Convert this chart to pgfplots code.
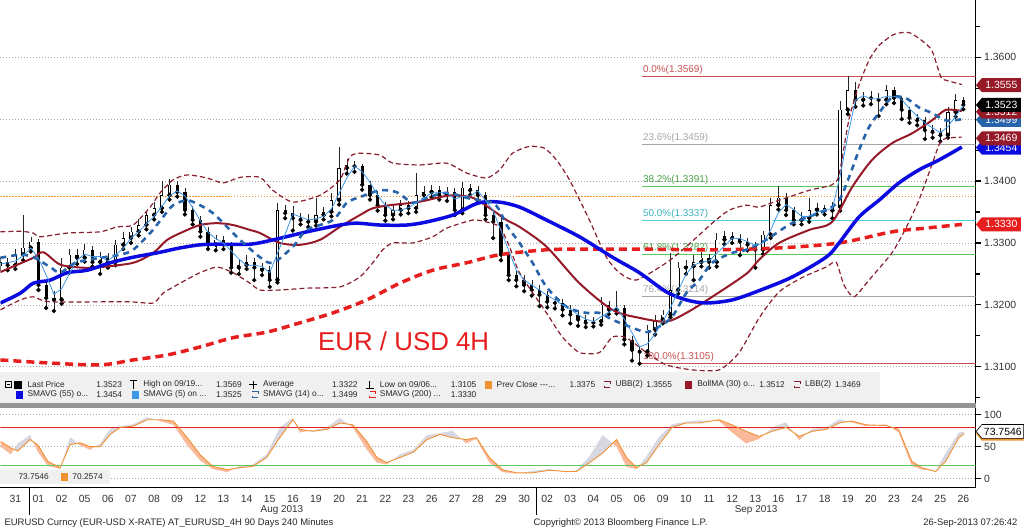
\documentclass[border=0pt]{standalone}
\usepackage{fontspec}
\setmainfont{Liberation Sans}
\usepackage{pgfplots}
\pgfplotsset{compat=1.18}
\usepackage{pgfplotstable}
\usepgfplotslibrary{fillbetween}
\usetikzlibrary{shapes.symbols}

\definecolor{bbblue}{RGB}{10,10,225}
\definecolor{bbsteel}{RGB}{40,100,170}
\definecolor{bblight}{RGB}{60,150,230}
\definecolor{bbred}{RGB}{230,30,30}
\definecolor{bbdark}{RGB}{150,25,40}
\definecolor{bbband}{RGB}{135,30,45}
\definecolor{bborange}{RGB}{240,145,50}
\definecolor{fibred}{RGB}{200,80,80}
\definecolor{fibgreen}{RGB}{90,200,90}
\definecolor{fibcyan}{RGB}{70,210,225}
\definecolor{fibgray}{RGB}{165,165,165}
\definecolor{legbg}{RGB}{240,240,240}
\definecolor{oscfillor}{RGB}{250,185,155}
\definecolor{oscfillgr}{RGB}{215,215,225}

\newcommand\fs[1]{\fontsize{#1}{#1}\selectfont}

% 4H candles, 3 per trading day; k = bar index (3 per day), s = SMAVG(5)
\pgfplotstableread{
k o h l c s
-2 1.3262 1.3277 1.3255 1.3269 1.3266
-1 1.3269 1.3276 1.3256 1.3264 1.3268
0 1.3264 1.3290 1.3258 1.3281 1.3271
1 1.3281 1.3345 1.3272 1.3292 1.3279
2 1.3292 1.3310 1.3286 1.3302 1.3292
3 1.3302 1.3306 1.3224 1.3232 1.3275
4 1.3232 1.3240 1.3195 1.3211 1.3248
5 1.3211 1.3222 1.3190 1.3208 1.3217
6 1.3208 1.3275 1.3202 1.3260 1.3226
7 1.3260 1.3290 1.3252 1.3281 1.3250
8 1.3281 1.3291 1.3266 1.3276 1.3272
9 1.3276 1.3298 1.3270 1.3289 1.3282
10 1.3289 1.3295 1.3262 1.3269 1.3278
11 1.3269 1.3285 1.3250 1.3276 1.3278
12 1.3276 1.3283 1.3260 1.3269 1.3271
13 1.3269 1.3305 1.3264 1.3297 1.3281
14 1.3297 1.3318 1.3290 1.3308 1.3291
15 1.3308 1.3326 1.3300 1.3318 1.3308
16 1.3318 1.3338 1.3312 1.3329 1.3318
17 1.3329 1.3352 1.3322 1.3345 1.3331
18 1.3345 1.3366 1.3338 1.3356 1.3343
19 1.3356 1.3400 1.3350 1.3377 1.3359
20 1.3377 1.3403 1.3370 1.3394 1.3376
21 1.3394 1.3400 1.3375 1.3382 1.3384
22 1.3382 1.3388 1.3346 1.3353 1.3376
23 1.3353 1.3360 1.3330 1.3337 1.3357
24 1.3337 1.3343 1.3310 1.3318 1.3336
25 1.3318 1.3325 1.3290 1.3297 1.3317
26 1.3297 1.3313 1.3288 1.3305 1.3307
27 1.3305 1.3312 1.3290 1.3297 1.3300
28 1.3297 1.3302 1.3252 1.3260 1.3287
29 1.3260 1.3272 1.3250 1.3264 1.3274
30 1.3264 1.3280 1.3258 1.3269 1.3264
31 1.3269 1.3276 1.3240 1.3260 1.3264
32 1.3260 1.3268 1.3248 1.3256 1.3262
33 1.3256 1.3262 1.3229 1.3240 1.3252
34 1.3240 1.3365 1.3236 1.3353 1.3283
35 1.3353 1.3362 1.3340 1.3348 1.3314
36 1.3348 1.3360 1.3320 1.3340 1.3347
37 1.3340 1.3348 1.3330 1.3337 1.3342
38 1.3337 1.3346 1.3326 1.3334 1.3337
39 1.3334 1.3372 1.3328 1.3345 1.3339
40 1.3345 1.3358 1.3338 1.3350 1.3343
41 1.3350 1.3380 1.3343 1.3369 1.3355
42 1.3369 1.3455 1.3362 1.3421 1.3380
43 1.3421 1.3435 1.3412 1.3426 1.3405
44 1.3426 1.3433 1.3415 1.3424 1.3424
45 1.3424 1.3428 1.3386 1.3394 1.3415
46 1.3394 1.3400 1.3370 1.3377 1.3398
47 1.3377 1.3384 1.3352 1.3361 1.3377
48 1.3361 1.3366 1.3336 1.3345 1.3361
49 1.3345 1.3362 1.3338 1.3353 1.3353
50 1.3353 1.3370 1.3346 1.3361 1.3353
51 1.3361 1.3368 1.3348 1.3356 1.3357
52 1.3356 1.3413 1.3350 1.3377 1.3365
53 1.3377 1.3392 1.3370 1.3382 1.3372
54 1.3382 1.3394 1.3374 1.3385 1.3381
55 1.3385 1.3392 1.3370 1.3377 1.3381
56 1.3377 1.3390 1.3368 1.3382 1.3381
57 1.3382 1.3388 1.3345 1.3353 1.3371
58 1.3353 1.3398 1.3348 1.3389 1.3375
59 1.3389 1.3396 1.3378 1.3385 1.3376
60 1.3385 1.3392 1.3368 1.3377 1.3384
61 1.3377 1.3382 1.3338 1.3345 1.3369
62 1.3345 1.3352 1.3308 1.3334 1.3352
63 1.3334 1.3340 1.3272 1.3281 1.3320
64 1.3281 1.3286 1.3240 1.3248 1.3288
65 1.3248 1.3256 1.3230 1.3240 1.3256
66 1.3240 1.3248 1.3222 1.3232 1.3240
67 1.3232 1.3240 1.3215 1.3224 1.3232
68 1.3224 1.3232 1.3198 1.3216 1.3224
69 1.3216 1.3222 1.3196 1.3205 1.3215
70 1.3205 1.3213 1.3194 1.3203 1.3208
71 1.3203 1.3210 1.3183 1.3192 1.3200
72 1.3192 1.3200 1.3170 1.3184 1.3193
73 1.3184 1.3190 1.3166 1.3176 1.3184
74 1.3176 1.3183 1.3164 1.3171 1.3177
75 1.3171 1.3181 1.3165 1.3173 1.3173
76 1.3173 1.3212 1.3168 1.3200 1.3181
77 1.3200 1.3206 1.3185 1.3192 1.3188
78 1.3192 1.3222 1.3186 1.3195 1.3196
79 1.3195 1.3200 1.3136 1.3144 1.3177
80 1.3144 1.3150 1.3110 1.3127 1.3155
81 1.3127 1.3134 1.3105 1.3124 1.3132
82 1.3124 1.3168 1.3118 1.3160 1.3137
83 1.3160 1.3184 1.3152 1.3176 1.3153
84 1.3176 1.3192 1.3170 1.3184 1.3173
85 1.3184 1.3284 1.3180 1.3224 1.3195
86 1.3224 1.3270 1.3218 1.3260 1.3223
87 1.3260 1.3272 1.3250 1.3262 1.3249
88 1.3262 1.3280 1.3240 1.3269 1.3264
89 1.3269 1.3286 1.3262 1.3276 1.3269
90 1.3276 1.3282 1.3260 1.3269 1.3271
91 1.3269 1.3316 1.3262 1.3305 1.3283
92 1.3305 1.3320 1.3298 1.3311 1.3295
93 1.3311 1.3318 1.3300 1.3308 1.3308
94 1.3308 1.3314 1.3280 1.3302 1.3307
95 1.3302 1.3308 1.3288 1.3297 1.3302
96 1.3297 1.3302 1.3260 1.3289 1.3296
97 1.3289 1.3320 1.3282 1.3313 1.3300
98 1.3313 1.3372 1.3308 1.3361 1.3321
99 1.3361 1.3392 1.3354 1.3373 1.3349
100 1.3373 1.3380 1.3345 1.3353 1.3362
101 1.3353 1.3358 1.3330 1.3337 1.3354
102 1.3337 1.3350 1.3330 1.3340 1.3343
103 1.3340 1.3372 1.3334 1.3353 1.3343
104 1.3353 1.3364 1.3346 1.3356 1.3350
105 1.3356 1.3362 1.3346 1.3352 1.3354
106 1.3352 1.3366 1.3340 1.3358 1.3355
107 1.3358 1.3530 1.3352 1.3515 1.3408
108 1.3515 1.3569 1.3508 1.3547 1.3473
109 1.3547 1.3560 1.3520 1.3531 1.3531
110 1.3531 1.3544 1.3522 1.3535 1.3538
111 1.3535 1.3545 1.3524 1.3534 1.3533
112 1.3534 1.3542 1.3505 1.3531 1.3533
113 1.3531 1.3556 1.3524 1.3547 1.3537
114 1.3547 1.3552 1.3526 1.3534 1.3537
115 1.3534 1.3538 1.3500 1.3515 1.3532
116 1.3515 1.3520 1.3494 1.3502 1.3517
117 1.3502 1.3508 1.3490 1.3498 1.3505
118 1.3498 1.3503 1.3468 1.3482 1.3494
119 1.3482 1.3490 1.3470 1.3479 1.3486
120 1.3479 1.3486 1.3464 1.3474 1.3478
121 1.3474 1.3520 1.3470 1.3511 1.3488
122 1.3511 1.3540 1.3504 1.3531 1.3505
123 1.3531 1.3536 1.3516 1.3523 1.3522
}\candles

% oscillator: K (grey) and D (orange)
\pgfplotstableread{
k K D
-1.9 50 58
-0.6 38 48
0.3 55 43
1.9 68 61
2.9 42 53
4.2 20 27
5.8 15 17
7.1 65 53
8.4 52 56
9.7 45 50
11.0 55 50
12.3 78 69
13.6 82 80
15.3 85 82
17.1 96 92
18.8 90 92
20.5 84 90
22.3 52 64
24.0 28 37
25.6 15 19
27.5 10 14
29.1 20 17
30.8 22 19
32.6 38 33
34.3 80 64
36.0 95 92
36.9 72 77
38.6 76 74
40.4 80 77
42.1 95 87
43.8 80 84
45.6 45 58
46.9 25 33
48.2 22 25
49.9 38 33
51.6 45 41
53.4 68 61
55.1 71 69
56.7 75 64
58.5 55 61
59.8 62 64
61.5 25 33
63.2 10 14
65.0 8 9
67.1 12 9
69.3 15 13
71.5 10 11
72.8 13 11
74.5 35 25
76.2 68 40
78.0 50 61
79.3 18 33
80.6 15 17
81.9 35 25
83.5 65 53
85.2 85 80
87.0 89 87
88.7 91 87
91.3 90 92
93.0 72 84
94.8 55 74
96.5 62 66
98.2 80 74
100.0 88 80
101.7 60 66
103.4 78 74
105.2 80 77
106.9 93 87
108.5 88 90
110.4 82 84
113.0 85 83
114.6 72 77
116.3 20 27
117.6 14 17
119.4 12 11
120.7 40 27
122.4 72 64
123.1 73.75 70.26
}\osc

\tikzset{tag/.style={signal, signal to=west, signal pointer angle=100, fill=#1,
  text=white, font=\fs{10.5}, inner xsep=2bp, inner ysep=1.2bp, anchor=west,
  minimum width=45bp, minimum height=14bp}}
\newcommand\lsicon[3]{\draw[#3, line width=0.8bp] (#1bp,#2bp) ++(0bp,3bp) -- ++(6bp,0bp) -- ++(0bp,-2bp)
  (#1bp,#2bp) ++(0bp,-1bp) -- ++(0bp,-2bp) -- ++(6bp,0bp);}

\begin{document}
\begin{tikzpicture}
\path (0bp,0bp) rectangle (1024bp,530bp);

% ---------- main price panel ----------
\begin{axis}[
  at={(0bp,125bp)}, anchor=south west,
  width=977bp, height=405bp, scale only axis,
  xmin=-1.943, xmax=124.6, ymin=1.30387, ymax=1.36919,
  axis x line=none, axis y line*=right,
  axis line style={black, line width=0.8bp},
  ytick={1.31,1.32,1.33,1.34,1.35,1.36},
  yticklabels={1.3100,1.3200,1.3300,1.3400,1.3500,1.3600},
  minor ytick={1.305,1.315,1.325,1.335,1.345,1.355,1.365},
  scaled y ticks=false,
  tick align=outside, major tick length=5bp, minor tick length=4bp,
  ytick style={black, line width=1.2bp},
  yticklabel style={font=\fs{10.5}, text=black!80},
  ymajorgrids, major grid style={gray!70, dash pattern=on 1bp off 2bp, line width=0.7bp},
  clip mode=individual,
]
% Fibonacci retracement and previous close lines
\addplot[fibred, line width=0.8bp] coordinates {(81.35,1.3569) (124.6,1.3569)};
\addplot[fibgray, line width=0.8bp] coordinates {(81.35,1.3459) (124.6,1.3459)};
\addplot[fibgreen, line width=0.8bp] coordinates {(81.35,1.3391) (124.6,1.3391)};
\addplot[fibcyan, line width=0.8bp] coordinates {(81.35,1.3337) (124.6,1.3337)};
\addplot[fibgreen, line width=0.8bp] coordinates {(81.35,1.3282) (124.6,1.3282)};
\addplot[fibgray, line width=0.8bp] coordinates {(81.35,1.3214) (124.6,1.3214)};
\addplot[fibred, line width=0.8bp] coordinates {(81.35,1.3105) (124.6,1.3105)};
\addplot[bborange, line width=0.8bp, dash pattern=on 1.5bp off 1.5bp] coordinates {(-1.943,1.3375) (124.6,1.3375)};

\begin{scope}[font=\fs{10}, inner sep=0.5bp]
\node[anchor=south west, text=fibred] at (axis cs:81.35,1.3571) {0.0\%(1.3569)};
\node[anchor=south west, text=fibgray] at (axis cs:81.35,1.3461) {23.6\%(1.3459)};
\node[anchor=south west, text=fibgreen!80!black] at (axis cs:81.35,1.3393) {38.2\%(1.3391)};
\node[anchor=south west, text=fibcyan!85!black] at (axis cs:81.35,1.3339) {50.0\%(1.3337)};
\node[anchor=south west, text=fibgreen!80!black] at (axis cs:81.35,1.3284) {61.8\%(1.3282)};
\node[anchor=south west, text=fibgray] at (axis cs:81.35,1.3216) {76.4\%(1.3214)};
\node[anchor=south west, text=fibred] at (axis cs:81.35,1.3107) {100.0\%(1.3105)};
\end{scope}

% candles: wicks, bodies, hollow up bodies
\addplot[only marks, mark=none, error bars/.cd, y dir=plus, y explicit, error mark=none,
  error bar style={draw=black!85, line width=0.5bp}]
  table[x=k, y=l, y error expr=\thisrow{h}-\thisrow{l}] {\candles};
\addplot[only marks, mark=none, error bars/.cd, y dir=plus, y explicit, error mark=none,
  error bar style={draw=black, line width=3.2bp}]
  table[x=k, y expr={min(\thisrow{o},\thisrow{c})}, y error expr={abs(\thisrow{c}-\thisrow{o})}] {\candles};
\addplot[only marks, mark=none, restrict expr to domain={\thisrow{c}-\thisrow{o}}{0.0002:1},
  error bars/.cd, y dir=plus, y explicit, error mark=none,
  error bar style={draw=white, line width=1.8bp}]
  table[x=k, y expr={\thisrow{o}+0.00009}, y error expr={\thisrow{c}-\thisrow{o}-0.00018}] {\candles};

% Bollinger bands (30, 2)
\addplot[bbband, line width=1.2bp, dash pattern=on 5bp off 3bp, smooth, tension=0.4] coordinates {
(-1.94,1.3318) (0.65,1.3319) (2.33,1.3316) (3.24,1.3310) (6.74,1.3316) (11.01,1.3318) (13.21,1.3326)
(15.28,1.3329) (17.49,1.3358) (18.78,1.3381) (20.47,1.3402) (22.28,1.3410) (24.87,1.3405) (26.94,1.3397)
(29.15,1.3406) (31.74,1.3406) (33.42,1.3385) (36.01,1.3366) (39.51,1.3377) (42.10,1.3402) (43.39,1.3439)
(44.69,1.3445) (47.28,1.3442) (48.96,1.3429) (52.46,1.3426) (55.96,1.3429) (58.55,1.3413) (61.14,1.3405)
(62.82,1.3418) (64.51,1.3445) (66.71,1.3456) (68.65,1.3453) (70.21,1.3434) (71.89,1.3402) (74.48,1.3337)
(76.68,1.3277) (78.37,1.3252) (80.57,1.3240) (84.46,1.3268) (87.05,1.3294) (90.41,1.3332) (92.62,1.3353)
(94.82,1.3361) (96.50,1.3358) (99.09,1.3369) (102.98,1.3385) (105.96,1.3394) (106.87,1.3410) (108.16,1.3500)
(109.46,1.3555) (110.75,1.3595) (112.05,1.3619) (114.00,1.3637) (115.93,1.3640) (117.62,1.3627)
(118.91,1.3611) (120.08,1.3568) (120.73,1.3563) (122.80,1.3556)};
\addplot[bbband, line width=1.2bp, dash pattern=on 5bp off 3bp, smooth, tension=0.4] coordinates {
(-1.94,1.3192) (0.65,1.3208) (2.33,1.3213) (4.53,1.3205) (14.51,1.3205) (17.88,1.3203) (19.17,1.3219)
(21.37,1.3235) (23.96,1.3252) (26.17,1.3261) (28.24,1.3252) (30.44,1.3235) (31.74,1.3224) (34.33,1.3224)
(37.82,1.3227) (42.10,1.3229) (44.69,1.3245) (46.37,1.3268) (47.67,1.3289) (48.96,1.3300) (51.55,1.3300)
(54.15,1.3310) (55.96,1.3324) (59.33,1.3337) (61.14,1.3334) (62.82,1.3326) (64.12,1.3294) (65.41,1.3252)
(68.91,1.3187) (70.98,1.3148) (73.19,1.3123) (75.78,1.3123) (77.46,1.3148) (79.27,1.3147) (81.87,1.3123)
(84.46,1.3103) (87.82,1.3095) (91.32,1.3095) (93.91,1.3123) (96.50,1.3179) (99.09,1.3221) (102.07,1.3244)
(105.18,1.3261) (106.48,1.3269) (107.51,1.3232) (108.81,1.3213) (110.75,1.3240) (113.73,1.3284)
(115.54,1.3324) (117.23,1.3369) (118.91,1.3426) (120.21,1.3466) (122.80,1.3471)};

% SMAVG (200)
\addplot[bbred, line width=3.5bp, dash pattern=on 8bp off 5bp, smooth] coordinates {
(-1.94,1.3111) (4.53,1.3106) (11.01,1.3103) (15.28,1.3111) (19.69,1.3119) (23.96,1.3132) (28.24,1.3147)
(32.64,1.3156) (36.92,1.3171) (41.19,1.3187) (45.60,1.3208) (49.87,1.3235) (54.15,1.3256) (58.55,1.3268)
(62.82,1.3281) (68.91,1.3289) (73.19,1.3290) (81.87,1.3290) (90.41,1.3289) (99.09,1.3292) (106.87,1.3300)
(113.73,1.3318) (118.13,1.3324) (122.80,1.3330)};

% BollMA (30)
\addplot[bbdark, line width=2bp, smooth] coordinates {
(-1.94,1.3253) (0.26,1.3265) (2.33,1.3276) (3.63,1.3285) (5.83,1.3265) (8.81,1.3260) (11.01,1.3261)
(15.28,1.3268) (17.88,1.3284) (19.69,1.3305) (21.76,1.3318) (23.96,1.3329) (26.17,1.3332) (28.24,1.3329)
(30.44,1.3321) (31.74,1.3316) (34.33,1.3300) (36.92,1.3297) (39.51,1.3305) (42.10,1.3326) (44.69,1.3345)
(46.37,1.3356) (48.58,1.3361) (51.55,1.3365) (53.37,1.3369) (55.05,1.3374) (56.74,1.3377) (59.33,1.3373)
(61.92,1.3353) (63.73,1.3337) (65.41,1.3326) (68.91,1.3294) (73.19,1.3235) (77.46,1.3192) (80.96,1.3179)
(84.46,1.3173) (87.05,1.3187) (90.41,1.3213) (94.82,1.3250) (96.50,1.3273) (99.09,1.3300) (102.98,1.3321)
(105.96,1.3334) (108.55,1.3390) (111.14,1.3434) (113.73,1.3461) (116.32,1.3477) (118.91,1.3498)
(120.73,1.3515) (122.80,1.3513)};

% SMAVG (55)
\addplot[bbblue, line width=3.5bp, smooth] coordinates {
(-1.94,1.3203) (0.65,1.3219) (2.33,1.3235) (4.53,1.3240) (6.74,1.3252) (9.33,1.3256) (12.31,1.3268)
(15.28,1.3277) (18.39,1.3284) (21.37,1.3292) (23.96,1.3297) (26.17,1.3298) (30.44,1.3298) (33.42,1.3305)
(37.82,1.3318) (42.10,1.3329) (44.30,1.3332) (47.28,1.3329) (50.78,1.3329) (53.37,1.3334) (56.74,1.3345)
(59.33,1.3361) (60.62,1.3366) (62.82,1.3366) (65.41,1.3358) (68.91,1.3337) (73.19,1.3310) (77.46,1.3277)
(80.96,1.3252) (84.46,1.3221) (87.05,1.3208) (89.64,1.3203) (93.01,1.3208) (96.50,1.3223) (100.78,1.3245)
(105.18,1.3277) (106.87,1.3300) (109.46,1.3342) (112.05,1.3369) (114.64,1.3397) (117.23,1.3418)
(119.82,1.3434) (122.80,1.3455)};

% SMAVG (14)
\addplot[bbsteel, line width=2.6bp, dash pattern=on 6bp off 5bp, smooth] coordinates {
(-1.94,1.3276) (0.65,1.3281) (2.33,1.3277) (4.53,1.3261) (5.83,1.3252) (7.77,1.3268) (11.01,1.3276)
(13.60,1.3281) (15.28,1.3289) (17.49,1.3316) (19.17,1.3342) (20.47,1.3361) (22.28,1.3369) (23.96,1.3361)
(25.65,1.3348) (27.46,1.3326) (29.15,1.3305) (31.74,1.3277) (33.42,1.3268) (36.01,1.3294) (37.82,1.3321)
(41.19,1.3337) (43.01,1.3365) (44.69,1.3374) (47.28,1.3385) (49.48,1.3382) (51.55,1.3365) (53.37,1.3373)
(55.96,1.3381) (58.55,1.3373) (60.23,1.3369) (61.92,1.3365) (62.82,1.3353) (63.73,1.3329) (65.41,1.3300)
(67.10,1.3268) (68.91,1.3229) (71.50,1.3197) (74.09,1.3187) (75.78,1.3187) (77.46,1.3176) (79.66,1.3165)
(81.87,1.3156) (83.55,1.3165) (85.23,1.3181) (87.05,1.3219) (88.73,1.3240) (90.41,1.3268) (93.01,1.3284)
(94.82,1.3289) (97.41,1.3305) (100.78,1.3332) (105.18,1.3353) (106.87,1.3369) (108.16,1.3406)
(109.46,1.3450) (110.75,1.3487) (112.05,1.3510) (113.73,1.3535) (115.54,1.3534) (117.23,1.3519)
(118.91,1.3510) (120.73,1.3498) (122.80,1.3500)};

% SMAVG (5)
\addplot[bblight, line width=0.8bp] table[x=k, y=s] {\candles};

% price tags on the right
\node[tag=bbsteel] at (axis cs:124.6,1.3499) {1.3499};
\node[tag=bbdark] at (axis cs:124.6,1.3512) {1.3512};
\node[tag=black] at (axis cs:124.6,1.3523) {1.3523};
\node[tag=bbdark] at (axis cs:124.6,1.3555) {1.3555};
\node[tag=bbblue] at (axis cs:124.6,1.3454) {1.3454};
\node[tag=bbdark] at (axis cs:124.6,1.3469) {1.3469};
\node[tag=bbred] at (axis cs:124.6,1.3330) {1.3330};
\end{axis}

% ---------- oscillator panel ----------
\begin{axis}[
  at={(0bp,42bp)}, anchor=south west,
  width=977bp, height=80bp, scale only axis,
  xmin=-1.943, xmax=124.6, ymin=-14.06, ymax=110.9,
  axis x line*=bottom, axis y line*=right,
  axis line style={black, line width=0.8bp},
  xtick={0,3,...,123},
  xticklabels={31,01,02,05,06,07,08,09,12,13,14,15,16,19,20,21,22,23,26,27,28,29,30,
    02,03,04,05,06,09,10,11,12,13,16,17,18,19,20,23,24,25,26},
  xtick style={draw=none},
  xticklabel style={font=\fs{10.5}, text=black!80, yshift=1bp},
  ytick={0,50,100}, yticklabels={0,50,100},
  tick align=outside, major tick length=5bp,
  ytick style={black, line width=1.2bp},
  yticklabel style={font=\fs{10.5}, text=black!80},
  ymajorgrids, major grid style={gray!70, dash pattern=on 1bp off 2bp, line width=0.7bp},
]
\addplot[bbred, line width=0.8bp] coordinates {(-1.943,80) (124.6,80)};
\addplot[fibgreen, line width=0.8bp] coordinates {(-1.943,20) (124.6,20)};
\addplot[name path=K, draw=none] table[x=k, y=K] {\osc};
\addplot[name path=D, draw=none] table[x=k, y=D] {\osc};
\addplot fill between[of=K and D, split,
  every even segment/.style={fill=oscfillor},
  every odd segment/.style={fill=oscfillgr}];
\addplot[bborange, line width=0.9bp] table[x=k, y=D] {\osc};
\end{axis}
\node[tag=bborange, text=bborange] at (977bp,96bp) {\phantom{70.2574}};
\node[tag=white, text=black, draw=black, line width=0.6bp] at (977bp,98.2bp) {73.7546};

% ---------- legend, separators, footer ----------
\fill[legbg] (0bp,127bp) rectangle (881bp,158bp);
\fill[black!42] (0bp,122bp) rectangle (977bp,127bp);

\begin{scope}[font=\fs{8.4}, text=black!85, inner sep=0pt]
\draw[line width=0.6bp] (5bp,142bp) rectangle (11bp,148bp) (6.5bp,145bp) -- (9.5bp,145bp);
\fill[black] (14bp,141bp) rectangle (22bp,149bp);
\node[anchor=west] at (27bp,145bp) {Last Price};
\node[anchor=east] at (122bp,145bp) {1.3523};
\draw[line width=0.8bp] (130bp,149bp) -- (137bp,149bp) (133.5bp,149bp) -- (133.5bp,141bp);
\node[anchor=west] at (143bp,145bp) {High on 09/19...};
\node[anchor=east] at (242bp,145bp) {1.3569};
\draw[line width=0.8bp] (249bp,145bp) -- (257bp,145bp) (253bp,141bp) -- (253bp,149bp);
\node[anchor=west] at (263bp,145bp) {Average};
\node[anchor=east] at (358bp,145bp) {1.3322};
\draw[line width=0.8bp] (366bp,141bp) -- (374bp,141bp) (370bp,141bp) -- (370bp,149bp);
\node[anchor=west] at (380bp,145bp) {Low on 09/06...};
\node[anchor=east] at (477bp,145bp) {1.3105};
\fill[bborange] (485bp,141bp) rectangle (492bp,149bp);
\node[anchor=west] at (497bp,145bp) {Prev Close -{}-{}-...};
\node[anchor=east] at (596bp,145bp) {1.3375};
\lsicon{605}{145}{bbband}
\node[anchor=west] at (616bp,145bp) {UBB(2)};
\node[anchor=east] at (673bp,145bp) {1.3555};
\fill[bbdark] (686bp,141bp) rectangle (693bp,149bp);
\node[anchor=west] at (698bp,145bp) {BollMA (30) o...};
\node[anchor=east] at (786bp,145bp) {1.3512};
\lsicon{795}{145}{bbband}
\node[anchor=west] at (806bp,145bp) {LBB(2)};
\node[anchor=east] at (862bp,145bp) {1.3469};

\fill[bbblue] (16bp,131bp) rectangle (23bp,139bp);
\node[anchor=west] at (27bp,135bp) {SMAVG (55) o...};
\node[anchor=east] at (122bp,135bp) {1.3454};
\fill[bblight] (132bp,131bp) rectangle (139bp,139bp);
\node[anchor=west] at (143bp,135bp) {SMAVG (5) on ...};
\node[anchor=east] at (242bp,135bp) {1.3525};
\lsicon{252}{135}{bbsteel}
\node[anchor=west] at (263bp,135bp) {SMAVG (14) o...};
\node[anchor=east] at (358bp,135bp) {1.3499};
\lsicon{370}{135}{bbred}
\node[anchor=west] at (380bp,135bp) {SMAVG (200) ...};
\node[anchor=east] at (477bp,135bp) {1.3330};

\fill[legbg] (0bp,46bp) rectangle (110bp,60bp);
\node[anchor=west] at (18bp,53bp) {73.7546};
\fill[bborange] (61bp,49bp) rectangle (68bp,57bp);
\node[anchor=west] at (72bp,53bp) {70.2574};
\end{scope}

\node[text=bbred, font=\fs{26}] at (404bp,189bp) {EUR / USD 4H};

\draw[black, line width=0.8bp] (29bp,42bp) -- (29bp,15bp) (537bp,42bp) -- (537bp,15bp);
\node[font=\fs{10}, text=black!80, inner sep=1bp] at (282bp,19.5bp) {Aug 2013};
\node[font=\fs{10}, text=black!80, inner sep=1bp] at (757bp,19.5bp) {Sep 2013};
\begin{scope}[font=\fs{9.5}, text=black!85]
\node[anchor=west, inner sep=1bp] at (3bp,6.5bp) {EURUSD Curncy (EUR-USD X-RATE) AT\_EURUSD\_4H 90 Days 240 Minutes};
\node[anchor=west, inner sep=1bp] at (533bp,6.5bp) {Copyright© 2013 Bloomberg Finance L.P.};
\node[anchor=east, inner sep=1bp] at (1020bp,6.5bp) {26-Sep-2013 07:26:42};
\end{scope}
\end{tikzpicture}
\end{document}
